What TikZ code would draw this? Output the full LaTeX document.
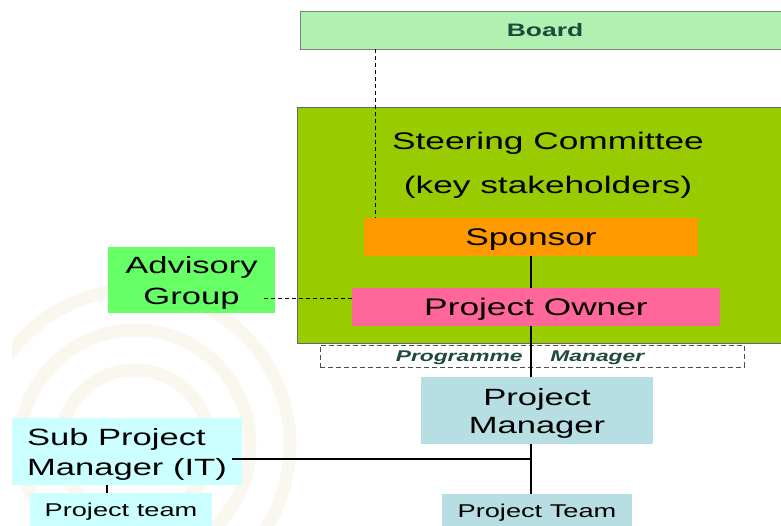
\documentclass[tikz,border=0pt]{standalone}
\usepackage{fontspec}
\setmainfont[FakeStretch=1.47]{Liberation Sans}
\usetikzlibrary{positioning}
\definecolor{boardfill}{HTML}{B0F0B0}
\definecolor{boardtext}{HTML}{1E4A3C}
\definecolor{scfill}{HTML}{99CC00}
\definecolor{spfill}{HTML}{FF9900}
\definecolor{pofill}{HTML}{FF6699}
\definecolor{agfill}{HTML}{66FF66}
\definecolor{pmfill}{HTML}{B7DEE2}
\definecolor{spmfill}{HTML}{CCFFFF}
\definecolor{wmark}{HTML}{FAF7EE}

\begin{document}
\begin{tikzpicture}[x=1pt,y=-1pt,
  box/.style={rectangle,inner sep=0pt,align=center,text=black},
  bigtext/.style={text depth=-1pt,font=\fontsize{23.5}{30}\selectfont},
  smalltext/.style={font=\fontsize{18.5}{22}\selectfont},
  link/.style={draw,line width=2.2pt},
  dotlink/.style={draw,line width=1pt,dash pattern=on 4pt off 3pt}]
  \useasboundingbox (0,0) rectangle (781,525);
  %watermark
  \begin{scope}
    \clip (12,190) rectangle (300,525);
    \foreach \r in {75,115,155}
      \draw[wmark,line width=13pt] (135,445) circle (\r);
  \end{scope}
  %board and steering committee
  \node[box,draw=gray,fill=boardfill,minimum width=490pt,minimum height=38pt,
    text=boardtext,font=\bfseries\fontsize{18}{22}\selectfont] (board) at (545,30) {Board};
  \node[box,draw=black!60,fill=scfill,minimum width=493pt,minimum height=236pt] (sc) at (543.5,225) {};
  \node[box,bigtext,font=\fontsize{24}{44}\selectfont] (sctext) at (548,163) {Steering Committee\\(key stakeholders)};
  \node[box,bigtext,fill=spfill,minimum width=334pt,minimum height=38pt,font=\fontsize{24}{29}\selectfont] (sp) at (531,237) {Sponsor};
  \node[box,bigtext,fill=pofill,minimum width=368pt,minimum height=38pt,font=\fontsize{24}{29}\selectfont] (po) at (536,307) {Project Owner};
  %advisory
  \node[box,bigtext,fill=agfill,minimum width=167pt,minimum height=66pt,font=\fontsize{23.5}{31}\selectfont] (ag) at (191.5,280) {Advisory\\Group};
  %programme manager
  \node[box,draw=black!70,line width=0.8pt,dash pattern=on 5pt off 3pt,minimum width=424pt,minimum height=22pt] (prg) at (532,356) {};
  \node[box,text depth=-1pt,text=boardtext,font=\bfseries\itshape\fontsize{15.5}{18}\selectfont] (prgtext) at (520,356) {Programme\hspace{28pt}Manager};
  %project manager
  \node[box,bigtext,fill=pmfill,minimum width=232pt,minimum height=67pt,font=\fontsize{23.5}{28}\selectfont] (pm) at (537,410.5) {Project\\Manager};
  \node[box,smalltext,fill=pmfill,minimum width=190pt,minimum height=36pt,below=50pt of pm] (ptm) {Project Team};
  %sub project
  \node[box,bigtext,fill=spmfill,minimum width=230pt,minimum height=67pt,align=left] (spm) at (127,451.5) {Sub Project\\Manager (IT)};
  \node[box,smalltext,fill=spmfill,minimum width=182pt,minimum height=37pt] (spt) at (121,511.5) {Project team};
  %links
  \coordinate (mid) at (sp.south |- 0,459);
  \coordinate (spmend) at (232,459);
  \draw[dotlink] (board.south -| 375,0) -- (sp.north -| 375,0);
  \draw[dotlink] (po.west |- 0,298) -- (263,298);
  \draw[link] (sp.south) -- (sp.south |- po.north);
  \draw[link] (po.south -| sp.south) -- (sp.south |- pm.north);
  \draw[link] (pm.south -| mid) -- (ptm.north -| mid);
  \draw[link] (spmend) -- (mid);
  \draw[link] (spm.south -| 107,0) -- (spt.north -| 107,0);
\end{tikzpicture}
\end{document}
